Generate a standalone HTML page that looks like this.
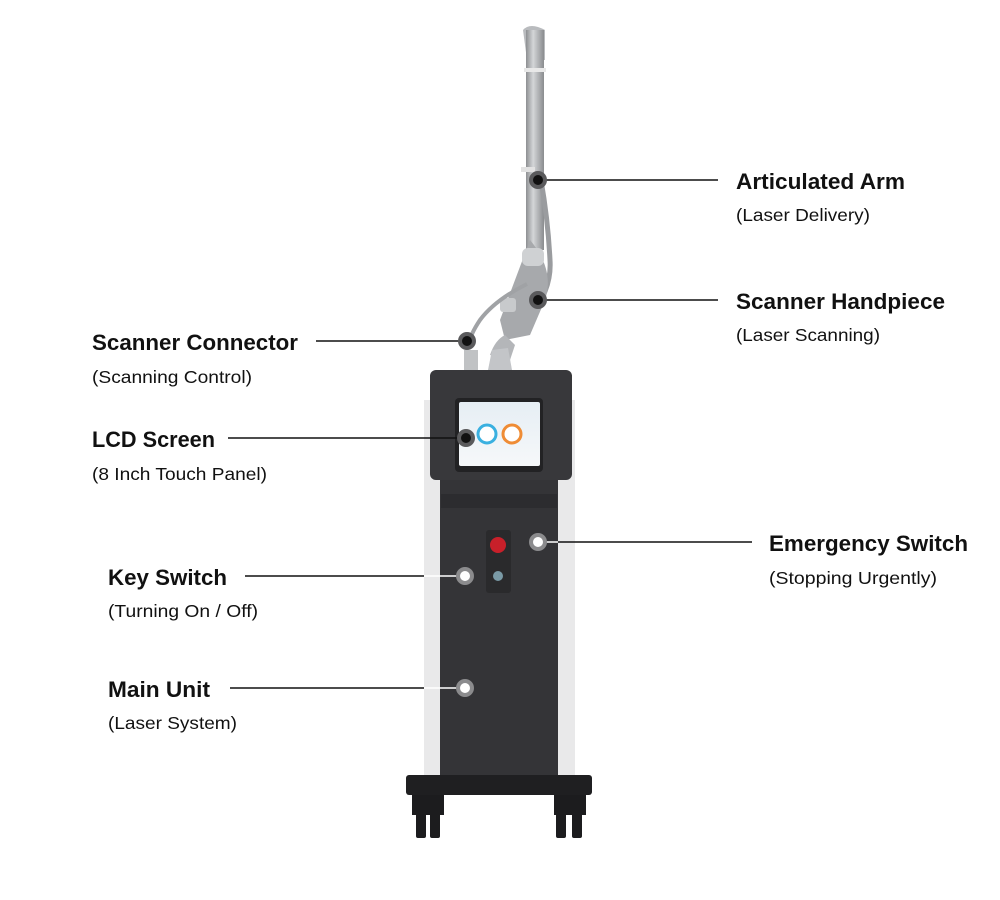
<!DOCTYPE html>
<html><head><style>
html,body{margin:0;padding:0;background:#fff;}
svg{display:block;}
.t{font-family:"Liberation Sans",sans-serif;font-weight:bold;font-size:22px;fill:#111;}
.s{font-family:"Liberation Sans",sans-serif;font-size:17.5px;fill:#111;}
</style></head><body>
<svg width="1000" height="900" viewBox="0 0 1000 900" xmlns="http://www.w3.org/2000/svg">
<defs>
<linearGradient id="tube" x1="0" x2="1"><stop offset="0" stop-color="#8d8f92"/><stop offset=".4" stop-color="#d4d6d8"/><stop offset="1" stop-color="#8a8c8f"/></linearGradient>
<linearGradient id="scr" x1="0" y1="0" x2="0" y2="1"><stop offset="0" stop-color="#e6eef4"/><stop offset="1" stop-color="#f6f8fa"/></linearGradient>
</defs>
<!-- arm -->
<path d="M523 30 Q530 22 545 30 L545 60 L527 60 Z" fill="#b9bbbe"/>
<rect x="526" y="30" width="18" height="220" fill="url(#tube)"/>
<rect x="524" y="68" width="22" height="4" fill="#e8e8e8"/>
<rect x="521" y="167" width="14" height="5" fill="#e2e2e2"/>
<path d="M541 180 Q548 220 550 260 Q552 290 530 315" stroke="#9a9c9f" stroke-width="5" fill="none"/>
<path d="M530 240 Q555 270 545 300 L530 335 L505 340 L500 320 Z" fill="#a7a9ac"/>
<rect x="522" y="248" width="22" height="18" rx="6" fill="#cfd1d3"/>
<rect x="500" y="298" width="16" height="14" rx="3" fill="#c8cacc"/>
<path d="M527 284 Q495 300 480 320 Q470 335 470 342" stroke="#a0a2a5" stroke-width="4" fill="none"/>
<path d="M490 355 Q495 340 505 335 L515 345 L510 360 Z" fill="#b4b6b9"/>
<path d="M488 370 L492 350 L508 348 L512 370 Z" fill="#c3c5c8"/>
<rect x="464" y="350" width="14" height="20" fill="#c0c2c4"/>
<!-- unit -->
<rect x="424" y="400" width="18" height="378" fill="#e9e9ea"/>
<rect x="556" y="400" width="19" height="378" fill="#e9e9ea"/>
<rect x="440" y="400" width="118" height="378" fill="#343437"/>
<rect x="430" y="370" width="142" height="110" rx="6" fill="#38383b"/>
<rect x="455" y="398" width="88" height="74" rx="4" fill="#222224"/>
<rect x="459" y="402" width="81" height="64" rx="2" fill="url(#scr)"/>
<circle cx="487" cy="434" r="9" fill="#fff" stroke="#3ab0e0" stroke-width="3"/>
<circle cx="512" cy="434" r="9" fill="#fff" stroke="#ef8c35" stroke-width="3"/>
<rect x="441" y="494" width="116" height="14" fill="#2c2c2f"/>
<rect x="486" y="530" width="25" height="63" rx="3" fill="#2a2a2c"/>
<circle cx="498" cy="545" r="8" fill="#c8202a"/>
<circle cx="498" cy="576" r="5" fill="#7a9aa6"/>
<rect x="406" y="775" width="186" height="20" rx="3" fill="#1f1f21"/>
<rect x="412" y="795" width="32" height="20" fill="#1c1c1e"/>
<rect x="416" y="812" width="10" height="26" rx="2" fill="#1c1c1e"/><rect x="430" y="812" width="10" height="26" rx="2" fill="#1c1c1e"/>
<rect x="554" y="795" width="32" height="20" fill="#1c1c1e"/>
<rect x="556" y="812" width="10" height="26" rx="2" fill="#1c1c1e"/><rect x="572" y="812" width="10" height="26" rx="2" fill="#1c1c1e"/>
<!-- lines -->
<g stroke="#111" stroke-width="1.5">
<line x1="540" y1="180" x2="718" y2="180"/>
<line x1="540" y1="300" x2="718" y2="300"/>
<line x1="316" y1="341" x2="467" y2="341"/>
<line x1="228" y1="438" x2="466" y2="438"/>
<line x1="558" y1="542" x2="752" y2="542"/>
<line x1="245" y1="576" x2="424" y2="576"/>
<line x1="230" y1="688" x2="424" y2="688"/>
</g>
<g stroke="#fff" stroke-width="1.5">
<line x1="538" y1="542" x2="558" y2="542"/>
<line x1="424" y1="576" x2="465" y2="576"/>
<line x1="424" y1="688" x2="465" y2="688"/>
</g>
<!-- markers -->
<g fill="#111" stroke="#5a5a5c" stroke-width="4">
<circle cx="538" cy="180" r="7"/><circle cx="538" cy="300" r="7"/>
<circle cx="467" cy="341" r="7"/><circle cx="466" cy="438" r="7"/>
</g>
<g fill="#fff" stroke="#8b8b8d" stroke-width="4">
<circle cx="538" cy="542" r="7"/><circle cx="465" cy="576" r="7"/><circle cx="465" cy="688" r="7"/>
</g>
<!-- labels -->
<text class="t" x="736" y="189" textLength="169" lengthAdjust="spacingAndGlyphs">Articulated Arm</text>
<text class="s" x="736" y="221" textLength="134" lengthAdjust="spacingAndGlyphs">(Laser Delivery)</text>
<text class="t" x="736" y="309" textLength="209" lengthAdjust="spacingAndGlyphs">Scanner Handpiece</text>
<text class="s" x="736" y="341" textLength="144" lengthAdjust="spacingAndGlyphs">(Laser Scanning)</text>
<text class="t" x="92" y="350" textLength="206" lengthAdjust="spacingAndGlyphs">Scanner Connector</text>
<text class="s" x="92" y="383" textLength="160" lengthAdjust="spacingAndGlyphs">(Scanning Control)</text>
<text class="t" x="92" y="447" textLength="123" lengthAdjust="spacingAndGlyphs">LCD Screen</text>
<text class="s" x="92" y="480" textLength="175" lengthAdjust="spacingAndGlyphs">(8 Inch Touch Panel)</text>
<text class="t" x="769" y="551" textLength="199" lengthAdjust="spacingAndGlyphs">Emergency Switch</text>
<text class="s" x="769" y="584" textLength="168" lengthAdjust="spacingAndGlyphs">(Stopping Urgently)</text>
<text class="t" x="108" y="585" textLength="119" lengthAdjust="spacingAndGlyphs">Key Switch</text>
<text class="s" x="108" y="617" textLength="150" lengthAdjust="spacingAndGlyphs">(Turning On / Off)</text>
<text class="t" x="108" y="697" textLength="102" lengthAdjust="spacingAndGlyphs">Main Unit</text>
<text class="s" x="108" y="729" textLength="129" lengthAdjust="spacingAndGlyphs">(Laser System)</text>
</svg>
</body></html>
